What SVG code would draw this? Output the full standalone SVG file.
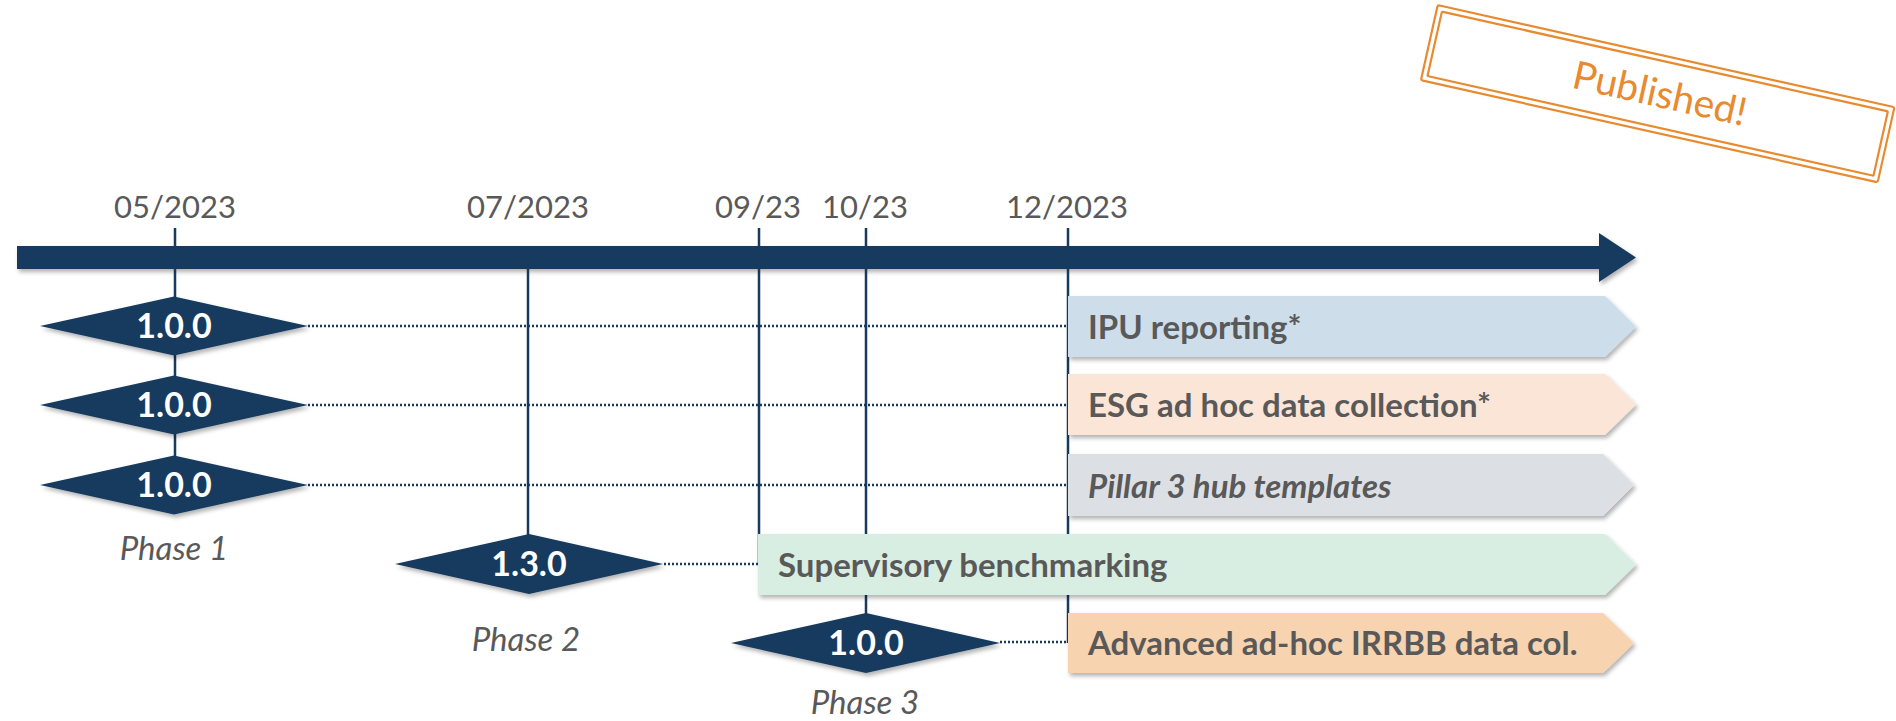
<svg xmlns="http://www.w3.org/2000/svg" width="1896" height="721" viewBox="0 0 1896 721">
  <defs>
    <filter id="sh" x="-10%" y="-30%" width="120%" height="170%">
      <feDropShadow dx="2" dy="3" stdDeviation="2" flood-color="#000" flood-opacity="0.3"/>
    </filter>
    <style>
      .navy { fill: #173A5E; }
      .tick { stroke: #173A5E; stroke-width: 2.5; fill: none; }
      .dot { stroke: #173A5E; stroke-width: 2.5; stroke-dasharray: 2 2; fill: none; }
      .date { font-family: Lato, "Liberation Sans", sans-serif; font-size: 31px; fill: #595959; text-anchor: middle; }
      .ver { font-family: Lato, "Liberation Sans", sans-serif; font-size: 34px; font-weight: bold; fill: #FFFFFF; text-anchor: middle; }
      .phase { font-family: Lato, "Liberation Sans", sans-serif; font-size: 33px; font-style: italic; fill: #595959; text-anchor: middle; }
      .lbl { font-family: Lato, "Liberation Sans", sans-serif; font-size: 33px; font-weight: bold; fill: #595959; }
      .stamp { fill: none; stroke: #E88A2F; stroke-width: 2.2; }
    </style>
  </defs>
  <rect width="1896" height="721" fill="#FFFFFF"/>

  <g id="timeline">
    <path class="navy" filter="url(#sh)" d="M17,246 H1599 V233 L1636,257.5 L1599,282 V269 H17 Z"/>
  </g>

  <g id="connectors">
    <line class="tick" x1="175" y1="228" x2="175" y2="485"/>
    <line class="tick" x1="528" y1="260" x2="528" y2="564"/>
    <line class="tick" x1="759" y1="228" x2="759" y2="564"/>
    <line class="tick" x1="866" y1="228" x2="866" y2="643"/>
    <line class="tick" x1="1068" y1="228" x2="1068" y2="643"/>
    <line class="dot" x1="308" y1="326" x2="1068" y2="326"/>
    <line class="dot" x1="308" y1="405" x2="1068" y2="405"/>
    <line class="dot" x1="308" y1="485" x2="1068" y2="485"/>
    <line class="dot" x1="664" y1="564" x2="758" y2="564"/>
    <line class="dot" x1="1000" y1="642" x2="1068" y2="642"/>
  </g>

  <g id="dates">
    <text class="date" x="175" y="218">05/2023</text>
    <text class="date" x="528" y="218">07/2023</text>
    <text class="date" x="758" y="218">09/23</text>
    <text class="date" x="865" y="218">10/23</text>
    <text class="date" x="1067" y="218">12/2023</text>
  </g>

  <g id="m1a">
    <polygon class="navy" filter="url(#sh)" points="40,326 174,296.5 308,326 174,355.5"/>
    <text class="ver" x="174" y="338">1.0.0</text>
  </g>
  <g id="m1b">
    <polygon class="navy" filter="url(#sh)" points="40,405 174,375.5 308,405 174,434.5"/>
    <text class="ver" x="174" y="417">1.0.0</text>
  </g>
  <g id="m1c">
    <polygon class="navy" filter="url(#sh)" points="40,485 174,455.5 308,485 174,514.5"/>
    <text class="ver" x="174" y="497">1.0.0</text>
  </g>
  <g id="m2">
    <polygon class="navy" filter="url(#sh)" points="395,564 529,534 663,564 529,594"/>
    <text class="ver" x="529" y="576">1.3.0</text>
  </g>
  <g id="m3">
    <polygon class="navy" filter="url(#sh)" points="731,643 866,613 1000,643 866,673"/>
    <text class="ver" x="866" y="655">1.0.0</text>
  </g>

  <g id="phases">
    <text class="phase" x="174" y="560">Phase 1</text>
    <text class="phase" x="526" y="651">Phase 2</text>
    <text class="phase" x="865" y="714">Phase 3</text>
  </g>

  <g id="b-ipu">
    <polygon filter="url(#sh)" fill="#CDDDEA" points="1068,296 1605,296 1636,326.5 1605,357 1068,357"/>
    <text class="lbl" x="1088" y="339">IPU reporting*</text>
  </g>
  <g id="b-esg">
    <polygon filter="url(#sh)" fill="#FBE5D6" points="1068,374 1605,374 1636,404.5 1605,435 1068,435"/>
    <text class="lbl" x="1088" y="417">ESG ad hoc data collection*</text>
  </g>
  <g id="b-pillar">
    <polygon filter="url(#sh)" fill="#DCE0E4" points="1068,454 1603,454 1634,485 1603,516 1068,516"/>
    <text class="lbl" x="1088" y="498" font-style="italic">Pillar 3 hub templates</text>
  </g>
  <g id="b-sup">
    <polygon filter="url(#sh)" fill="#D9EEE2" points="758,534 1605,534 1636,564.5 1605,595 758,595"/>
    <text class="lbl" x="778" y="577">Supervisory benchmarking</text>
  </g>
  <g id="b-adv">
    <polygon filter="url(#sh)" fill="#F7D3AF" points="1068,613 1603,613 1634,643 1603,673 1068,673"/>
    <text class="lbl" x="1088" y="655">Advanced ad-hoc IRRBB data col.</text>
  </g>

  <g id="stamp" transform="translate(1657.7,93.7) rotate(12.6)">
    <rect class="stamp" x="-234" y="-38.5" width="468" height="77" rx="2"/>
    <rect class="stamp" x="-228.5" y="-33" width="457" height="66" rx="1"/>
    <text x="2" y="13" font-family="Lato, 'Liberation Sans', sans-serif" font-size="39" fill="#E88A2F" text-anchor="middle">Published!</text>
  </g>
</svg>
